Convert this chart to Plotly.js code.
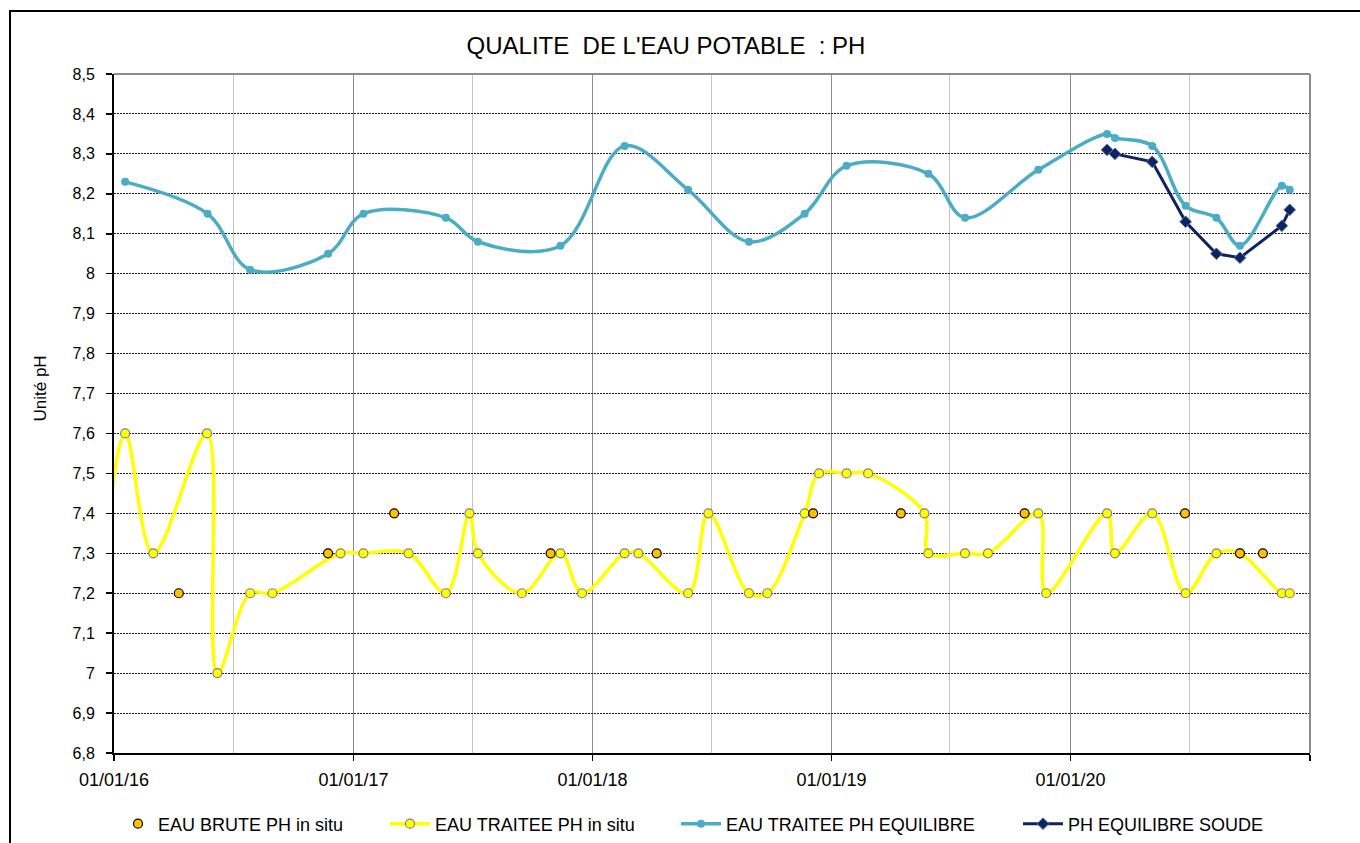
<!DOCTYPE html>
<html>
<head>
<meta charset="utf-8">
<script src="https://cdn.plot.ly/plotly-3.0.1.min.js"></script>
<style>
  html, body { margin: 0; padding: 0; background: #fff; overflow: hidden; }
  #chart { width: 1360px; height: 843px; }
</style>
</head>
<body>
<div id="chart"></div>
<script>
// ---- Data ----
const bruteDates = ['2016-04-09','2016-11-23','2017-03-04','2017-10-29','2018-04-09','2018-12-04','2019-04-17','2019-10-23','2020-06-24','2020-09-16','2020-10-21'];
const bruteValues = [7.2, 7.3, 7.4, 7.3, 7.3, 7.4, 7.4, 7.4, 7.4, 7.3, 7.3];

const traiteeDates = ['2015-12-18','2016-01-18','2016-03-01','2016-05-22','2016-06-07','2016-07-27','2016-08-30','2016-12-12',
  '2017-01-16','2017-03-26','2017-05-22','2017-06-27','2017-07-10','2017-09-15','2017-11-13','2017-12-16',
  '2018-02-19','2018-03-12','2018-05-27','2018-06-27','2018-08-28','2018-09-25','2018-11-21','2018-12-13',
  '2019-01-24','2019-02-26','2019-05-23','2019-05-29','2019-07-24','2019-08-28','2019-11-13','2019-11-25',
  '2020-02-26','2020-03-09','2020-05-05','2020-06-25','2020-08-11','2020-09-16','2020-11-19','2020-12-01'];
const traiteeValues = [7.3, 7.6, 7.3, 7.6, 7.0, 7.2, 7.2, 7.3,
  7.3, 7.3, 7.2, 7.4, 7.3, 7.2, 7.3, 7.2,
  7.3, 7.3, 7.2, 7.4, 7.2, 7.2, 7.4, 7.5,
  7.5, 7.5, 7.4, 7.3, 7.3, 7.3, 7.4, 7.2,
  7.4, 7.3, 7.4, 7.2, 7.3, 7.3, 7.2, 7.2];

const equilibreDates = ['2016-01-18','2016-05-23','2016-07-27','2016-11-23','2017-01-16','2017-05-22','2017-07-10','2017-11-13',
  '2018-02-19','2018-05-27','2018-08-28','2018-11-21','2019-01-24','2019-05-29','2019-07-24','2019-11-13',
  '2020-02-26','2020-03-09','2020-05-05','2020-06-25','2020-08-11','2020-09-16','2020-11-19','2020-12-01'];
const equilibreValues = [8.23, 8.15, 8.01, 8.05, 8.15, 8.14, 8.08, 8.07,
  8.32, 8.21, 8.08, 8.15, 8.27, 8.25, 8.14, 8.26,
  8.35, 8.34, 8.32, 8.17, 8.14, 8.07, 8.22, 8.21];

const soudeDates = ['2020-02-26','2020-03-09','2020-05-05','2020-06-25','2020-08-11','2020-09-16','2020-11-19','2020-12-01'];
const soudeValues = [8.31, 8.30, 8.28, 8.13, 8.05, 8.04, 8.12, 8.16];

const seriesNames = ['EAU BRUTE PH in situ', 'EAU TRAITEE PH in situ', 'EAU TRAITEE PH EQUILIBRE', 'PH EQUILIBRE SOUDE'];
const xTickValues = ['2016-01-01','2017-01-01','2018-01-01','2019-01-01','2020-01-01','2021-01-01'];
const xTickLabels = ['01/01/16','01/01/17','01/01/18','01/01/19','01/01/20',''];
const chartTitle = "QUALITE\u00a0\u00a0DE L'EAU POTABLE\u00a0\u00a0: PH";
const yTitle = 'Unité pH';

// ---- Traces ----
const FONT = 'Liberation Sans, Arial, Helvetica, sans-serif';

const traces = [
  {
    x: traiteeDates, y: traiteeValues, name: seriesNames[1], legend: 'legend2',
    type: 'scatter', mode: 'lines+markers',
    line: { color: '#FFFF00', width: 3.5, shape: 'spline', smoothing: 1 },
    marker: { symbol: 'circle', size: 9, color: '#FFFF00', line: { color: '#808080', width: 1.2 } }
  },
  {
    x: equilibreDates, y: equilibreValues, name: seriesNames[2], legend: 'legend3',
    type: 'scatter', mode: 'lines+markers',
    line: { color: '#4BACC6', width: 3.5, shape: 'spline', smoothing: 1 },
    marker: { symbol: 'circle', size: 8, color: '#4BACC6' }
  },
  {
    x: soudeDates, y: soudeValues, name: seriesNames[3], legend: 'legend4',
    type: 'scatter', mode: 'lines+markers',
    line: { color: '#0F2360', width: 3 },
    marker: { symbol: 'diamond', size: 9, color: '#0F2360', line: { color: '#4F6FB0', width: 1 } }
  },
  {
    x: bruteDates, y: bruteValues, name: seriesNames[0], legend: 'legend',
    type: 'scatter', mode: 'markers',
    marker: { symbol: 'circle', size: 9, color: '#FFC000', line: { color: '#000000', width: 1.2 } }
  }
];

const legendBase = (xpx, iw) => ({
  orientation: 'h', xref: 'container', yref: 'container',
  x: xpx / 1360, y: 1 - 824 / 843, xanchor: 'left', yanchor: 'middle',
  itemwidth: iw,
  font: { family: FONT, size: 18, color: '#000' },
  bgcolor: 'rgba(0,0,0,0)', borderwidth: 0
});

const layout = {
  width: 1360, height: 843,
  paper_bgcolor: '#ffffff', plot_bgcolor: '#ffffff',
  margin: { l: 114, r: 50, t: 74, b: 90 },
  separators: ', ',
  font: { family: FONT, color: '#000' },
  title: {
    text: chartTitle, font: { family: FONT, size: 24, color: '#000' },
    xref: 'container', yref: 'container', x: 666 / 1360, xanchor: 'center',
    y: 1 - 46 / 843, yanchor: 'middle'
  },
  xaxis: {
    type: 'date', range: ['2016-01-01', '2021-01-01'],
    tickmode: 'array', tickvals: xTickValues, ticktext: xTickLabels,
    ticks: 'outside', ticklen: 6, tickwidth: 1.5, tickcolor: '#000',
    ticklabelstandoff: 3,
    tickfont: { family: FONT, size: 18, color: '#000' },
    showline: true, linecolor: '#000', linewidth: 2,
    showgrid: true, gridcolor: '#8c8c8c', gridwidth: 1,
    minor: { tickmode: 'linear', tick0: '2016-01-01', dtick: 'M6', showgrid: true, gridcolor: '#c4c4c4', gridwidth: 1, ticks: '' },
    zeroline: false, fixedrange: true
  },
  yaxis: {
    range: [6.8, 8.5], dtick: 0.1, tick0: 6.8,
    ticks: 'outside', ticklen: 6, tickwidth: 1.5, tickcolor: '#000',
    ticklabelstandoff: 8,
    tickfont: { family: FONT, size: 16, color: '#000' },
    showline: true, linecolor: '#000', linewidth: 2,
    showgrid: true, gridcolor: '#202020', gridwidth: 1, griddash: '2px,1px',
    zeroline: false, fixedrange: true
  },
  showlegend: true,
  legend: legendBase(118, 30),
  legend2: legendBase(385, 40),
  legend3: legendBase(676, 40),
  legend4: legendBase(1018, 40),
  annotations: [{
    text: yTitle, textangle: -90, showarrow: false,
    xref: 'paper', yref: 'paper', x: (39.5 - 114) / 1196, y: (753 - 389) / 679,
    xanchor: 'center', yanchor: 'middle',
    font: { family: FONT, size: 17, color: '#000' }
  }],
  shapes: [
    // outer chart frame
    { type: 'rect', xref: 'paper', yref: 'paper', x0: (10 - 114) / 1196, x1: 1.2, y0: -0.3, y1: 1 + (74 - 11) / 679,
      line: { color: '#000', width: 2 }, fillcolor: 'rgba(0,0,0,0)', layer: 'below' },
    // plot area border (top and right)
    { type: 'line', xref: 'paper', yref: 'paper', x0: 0, x1: 1, y0: 1, y1: 1, line: { color: '#8c8c8c', width: 2 }, layer: 'above' },
    { type: 'line', xref: 'paper', yref: 'paper', x0: 1, x1: 1, y0: 0, y1: 1, line: { color: '#8c8c8c', width: 2 }, layer: 'above' }
  ]
};

Plotly.newPlot('chart', traces, layout, { displayModeBar: false, staticPlot: true });
</script>
</body>
</html>
